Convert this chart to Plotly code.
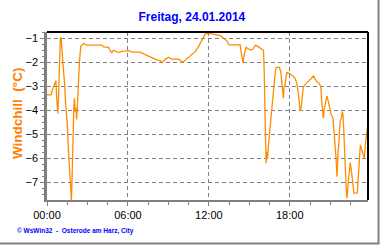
import plotly.graph_objects as go

hours = [0.00, 0.30, 0.40, 0.60, 0.66, 0.72, 0.76, 0.78, 0.80, 0.85, 0.89, 0.94, 0.99, 1.04, 1.08, 1.12,
         1.17, 1.27, 1.32, 1.37, 1.44, 1.51, 1.56, 1.64, 1.71, 1.76, 1.81, 1.85, 1.89, 1.94, 1.99, 2.04,
         2.09, 2.14, 2.17, 2.20, 2.25, 2.30, 2.40, 2.50, 2.60, 2.66, 2.72, 2.82, 2.97, 3.21, 4.07, 4.20,
         4.56, 4.69, 4.81, 4.93, 5.12, 5.31, 5.55, 5.80, 6.05, 6.30, 6.91, 7.16, 7.41, 7.65, 7.90, 8.15,
         8.40, 8.52, 8.76, 9.00, 9.26, 9.75, 10.07, 10.35, 10.60, 10.99, 11.23, 11.48, 11.73, 12.10,
         12.35, 12.84, 13.08, 13.33, 13.50, 14.32, 14.39, 14.47, 14.54, 14.61, 14.76, 14.98, 15.06,
         15.26, 15.46, 15.68, 15.93, 16.05, 16.10, 16.15, 16.20, 16.24, 16.30, 16.35, 16.42, 16.49,
         16.57, 16.64, 16.74, 16.84, 16.93, 17.00, 17.23, 17.33, 17.41, 17.48, 17.53, 17.58, 17.65,
         17.73, 17.78, 17.95, 18.07, 18.22, 18.39, 18.52, 18.62, 18.69, 18.76, 18.84, 18.91, 19.01,
         19.21, 19.40, 19.56, 19.75, 19.88, 20.00, 20.20, 20.30, 20.37, 20.44, 20.49, 20.55, 20.59,
         20.69, 20.76, 20.83, 20.91, 21.00, 21.08, 21.19, 21.26, 21.33, 21.43, 21.50, 21.58, 21.65,
         21.73, 21.82, 21.90, 21.95, 21.99, 22.04, 22.10, 22.15, 22.19, 22.24, 22.29, 22.34, 22.41,
         22.49, 22.56, 22.64, 22.71, 22.76, 23.01, 23.06, 23.11, 23.16, 23.23, 23.31, 23.38, 23.45,
         23.53, 23.60, 23.68, 23.75]

windchill = [-3.36, -3.36, -3.15, -2.88, -2.77, -3.5, -3.85, -3.6, -4.13, -3.5, -2.46, -1.56, -1.0, -0.96,
             -1.17, -1.56, -1.97, -2.6, -3.0, -3.64, -3.99, -4.61, -5.37, -6.0, -6.77, -7.32, -7.77, -7.0,
             -5.58, -4.27, -3.9, -3.5, -4.06, -3.9, -4.06, -4.38, -3.85, -3.08, -2.04, -1.35, -1.29, -1.25,
             -1.21, -1.25, -1.29, -1.29, -1.29, -1.36, -1.38, -1.52, -1.6, -1.5, -1.55, -1.6, -1.55, -1.52,
             -1.52, -1.58, -1.58, -1.65, -1.71, -1.77, -1.85, -1.9, -1.93, -2.02, -1.88, -1.79, -1.87,
             -1.87, -2.0, -1.87, -1.77, -1.56, -1.35, -1.07, -0.82, -0.80, -0.84, -0.89, -0.99, -1.11,
             -1.28, -1.28, -1.56, -1.83, -2.04, -1.7, -1.38, -1.46, -1.49, -1.46, -1.29, -1.36, -1.45,
             -1.5, -2.29, -3.99, -5.45, -6.21, -5.72, -6.0, -5.45, -5.03, -4.54, -3.99, -3.3, -2.9, -2.39,
             -2.21, -2.21, -2.39, -2.95, -3.32, -3.5, -3.0, -2.95, -2.6, -2.42, -2.46, -2.5, -2.57, -2.67,
             -2.88, -3.22, -3.78, -4.03, -3.9, -3.43, -3.02, -2.88, -2.8, -2.7, -2.57, -2.72, -2.81, -2.9,
             -3.02, -3.64, -4.06, -4.33, -4.0, -3.8, -3.57, -3.4, -3.6, -3.85, -4.05, -4.2, -4.29, -4.68,
             -5.24, -6.0, -6.77, -5.72, -5.3, -4.47, -4.33, -4.06, -4.2, -4.68, -5.52, -6.42, -7.04, -7.32,
             -7.67, -7.2, -6.97, -6.6, -6.18, -6.5, -6.83, -7.32, -7.46, -7.44, -7.04, -6.49, -5.93, -5.45,
             -5.6, -5.72, -5.85, -6.0, -5.45, -4.96, -4.75]

x_tick_vals = [0, 6, 12, 18]
x_tick_text = ["00:00", "06:00", "12:00", "18:00"]
y_tick_vals = [-7, -6, -5, -4, -3, -2, -1]

title_text = "Freitag, 24.01.2014"
y_title = "Windchill  (°C)"
footer = "© WsWin32  -  Osterode am Harz, City"

fig = go.Figure()
fig.add_trace(go.Scatter(x=hours, y=windchill, mode="lines",
                         line=dict(color="#FF8C00", width=1.3), hoverinfo="skip"))

L, R, T, B = 47, 12, 32, 45
W, H = 380, 245
pw = W - L - R
ph = H - T - B

fig.update_layout(
    width=W, height=H,
    margin=dict(l=L, r=R, t=T, b=B),
    paper_bgcolor="white", plot_bgcolor="white",
    showlegend=False,
    font=dict(family="Liberation Sans, Arial, sans-serif", size=11, color="black"),
    title=dict(text=title_text, x=0.505, xanchor="center", y=1 - 17 / H, yanchor="middle",
               font=dict(family="Liberation Sans, Arial, sans-serif", size=12, color="#0000FF", weight="bold")),
    xaxis=dict(range=[0, 23.8], tickvals=x_tick_vals, ticktext=x_tick_text,
               ticks="outside", ticklen=4, tickcolor="#808080", tickwidth=1,
               showgrid=True, gridcolor="#808080", gridwidth=1, griddash="4px,3px",
               showline=True, linecolor="#808080", linewidth=2, mirror=False,
               zeroline=False, fixedrange=True,
               minor=dict(dtick=1.5, tick0=0, ticks="outside", ticklen=3, tickcolor="#808080",
                          showgrid=False),
               tickfont=dict(size=11)),
    yaxis=dict(range=[-7.74, -0.74], tickvals=y_tick_vals,
               ticks="outside", ticklen=4, tickcolor="#808080", tickwidth=1,
               showgrid=True, gridcolor="#808080", gridwidth=1, griddash="4px,3px",
               showline=True, linecolor="#808080", linewidth=2.5, mirror=False,
               zeroline=False, fixedrange=True,
               minor=dict(dtick=0.25, tick0=0, ticks="outside", ticklen=2, tickcolor="#808080",
                          showgrid=False),
               tickfont=dict(size=11)),
)

# top and right black frame of the plot area
fig.add_shape(type="line", xref="paper", yref="paper", x0=0, x1=1, y0=1, y1=1,
              line=dict(color="black", width=2))
fig.add_shape(type="line", xref="paper", yref="paper", x0=1, x1=1, y0=0, y1=1,
              line=dict(color="black", width=2))
# outer gray frame on right and bottom
fig.add_shape(type="line", xref="paper", yref="paper",
              x0=(378.5 - L) / pw, x1=(378.5 - L) / pw, y0=(H - 243.5 - B) / ph, y1=(H - 0 - B) / ph,
              line=dict(color="#808080", width=2))
fig.add_shape(type="line", xref="paper", yref="paper",
              x0=(0 - L) / pw, x1=(379.5 - L) / pw, y0=(H - 243.5 - B) / ph, y1=(H - 243.5 - B) / ph,
              line=dict(color="#808080", width=2))

fig.add_annotation(text=y_title, xref="paper", yref="paper", x=0, xshift=18 - L,
                   y=(200 - 113) / ph, textangle=-90, showarrow=False, xanchor="center", yanchor="middle",
                   font=dict(family="Liberation Sans, Arial, sans-serif", size=13.5, color="#FF8000", weight="bold"))
fig.add_annotation(text=footer, xref="paper", yref="paper", x=0, xshift=15 - L,
                   y=(200 - 231) / ph, showarrow=False, xanchor="left", yanchor="middle",
                   font=dict(family="Liberation Sans, Arial, sans-serif", size=6.5, color="#0000FF", weight="bold"))

fig.write_html("out.html", config=dict(displayModeBar=False))
